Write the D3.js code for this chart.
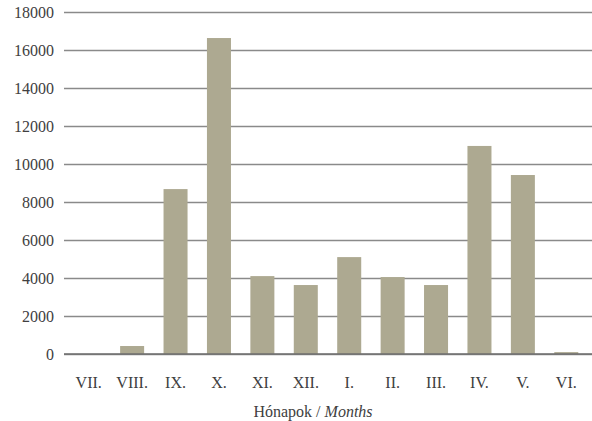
<!DOCTYPE html>
<html lang="hu">
<head>
  <meta charset="UTF-8" />
  <title>Hónapok / Months</title>
  <style>
    body {
      margin: 0;
      background: #fff;
    }
    svg text {
      font-family: "Liberation Serif", serif;
      font-size: 16px;
      fill: #404040;
    }
  </style>
</head>
<body>
  <svg width="592" height="421"></svg>

  <script src="https://d3js.org/d3.v7.min.js"></script>
  <script>
    // data
    const months = ["VII.", "VIII.", "IX.", "X.", "XI.", "XII.", "I.", "II.", "III.", "IV.", "V.", "VI."];
    const values = [0, 420, 8680, 16630, 4100, 3630, 5100, 4050, 3630, 10950, 9420, 100];
    const yTicks = [0, 2000, 4000, 6000, 8000, 10000, 12000, 14000, 16000, 18000];

    const svg = d3.select("svg");

    const gridLeft = 64, gridRight = 592;
    const x = d3.scaleBand()
      .domain(months)
      .range([67, 588])
      .paddingInner(0.447)
      .paddingOuter(0.2235);

    const y = d3.scaleLinear()
      .domain([0, 18000])
      .range([354, 12]);

    // y axis + gridlines
    const yAxis = svg.append("g")
      .attr("transform", `translate(${gridLeft},0)`)
      .call(d3.axisLeft(y)
        .tickValues(yTicks)
        .tickFormat(d3.format("d"))
        .tickSize(-(gridRight - gridLeft))
        .tickPadding(10));
    yAxis.select(".domain").remove();
    yAxis.selectAll(".tick line")
      .attr("stroke", "#8a8a8a")
      .attr("stroke-width", 1.5);
    yAxis.selectAll(".tick text")
      .attr("font-family", null)
      .attr("font-size", null);

    // bars
    svg.append("g")
      .selectAll("rect")
      .data(values)
      .join("rect")
      .attr("x", (d, i) => x(months[i]))
      .attr("y", d => y(d))
      .attr("width", x.bandwidth())
      .attr("height", d => y(0) - y(d))
      .attr("fill", "#ada991");

    // baseline
    svg.append("line")
      .attr("x1", gridLeft)
      .attr("x2", gridRight)
      .attr("y1", y(0))
      .attr("y2", y(0))
      .attr("stroke", "#6e6e6e")
      .attr("stroke-width", 1.5);

    // x axis labels
    const xAxis = svg.append("g")
      .attr("transform", `translate(0,${y(0)})`)
      .call(d3.axisBottom(x).tickSize(0).tickPadding(23));
    xAxis.select(".domain").remove();
    xAxis.selectAll(".tick text")
      .attr("font-family", null)
      .attr("font-size", null);

    // axis title
    const title = svg.append("text")
      .attr("x", 313)
      .attr("y", 417)
      .attr("text-anchor", "middle");
    title.append("tspan").text("Hónapok / ");
    title.append("tspan").attr("font-style", "italic").text("Months");
  </script>
</body>
</html>
